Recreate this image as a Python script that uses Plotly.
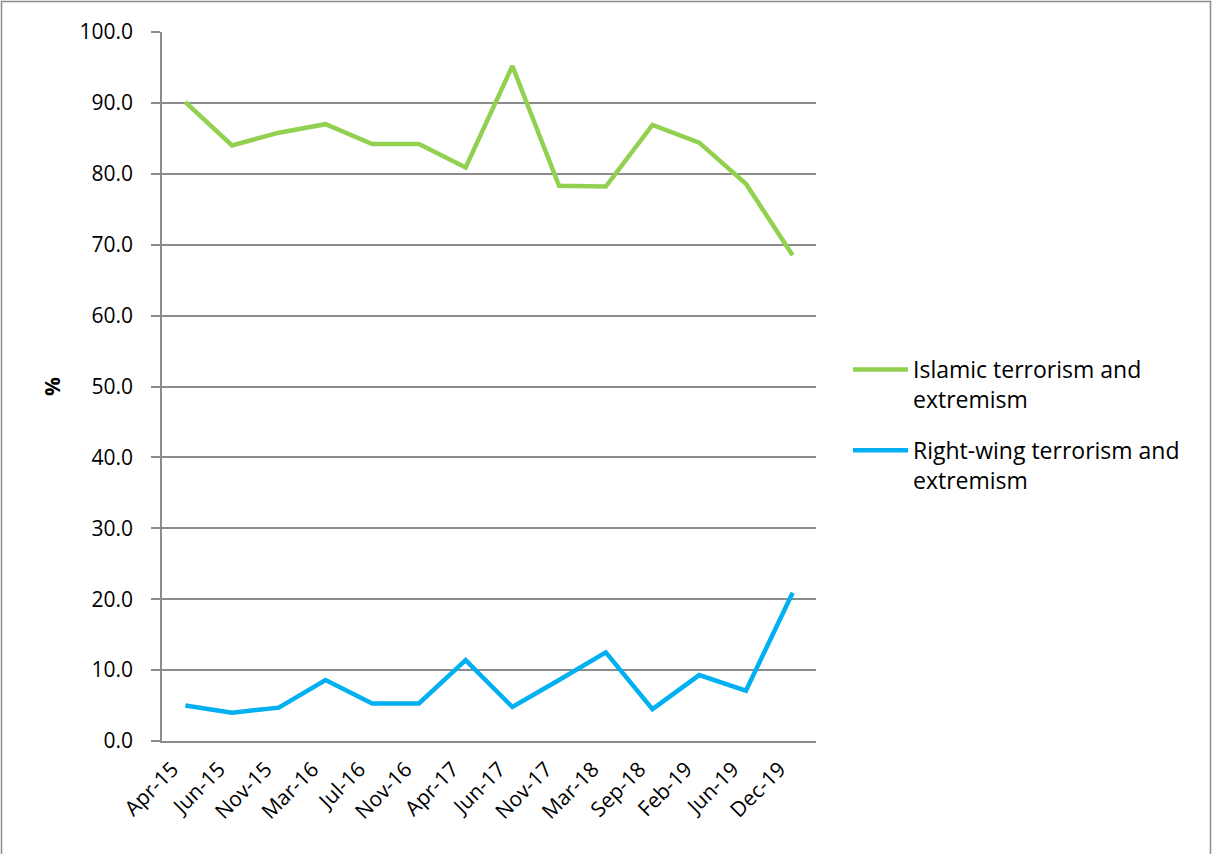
import plotly.graph_objects as go

# Survey waves
periods = ["Apr-15", "Jun-15", "Nov-15", "Mar-16", "Jul-16", "Nov-16", "Apr-17",
           "Jun-17", "Nov-17", "Mar-18", "Sep-18", "Feb-19", "Jun-19", "Dec-19"]

# Share of respondents (%) naming each threat
islamic = [90.1, 84.0, 85.8, 87.0, 84.2, 84.2, 80.9,
           95.2, 78.3, 78.2, 86.9, 84.4, 78.6, 68.5]
right_wing = [5.0, 4.0, 4.7, 8.6, 5.3, 5.3, 11.4,
              4.8, 8.6, 12.5, 4.5, 9.3, 7.1, 20.9]

y_ticks = [0, 10, 20, 30, 40, 50, 60, 70, 80, 90, 100]

FONT = "'Open Sans', Calibri, Carlito, sans-serif"
GRID = "#8c8c8c"

fig = go.Figure()
fig.add_trace(go.Scatter(
    x=periods, y=islamic, mode="lines", legendgroup="islamic",
    name="Islamic terrorism and<br>extremism",
    line=dict(color="#92D050", width=4.5),
))
fig.add_trace(go.Scatter(
    x=periods, y=right_wing, mode="lines", legendgroup="rightwing",
    name="Right-wing terrorism and<br>extremism",
    line=dict(color="#00B0F0", width=4.5),
))

W, H = 1212, 854
L, R, T, B = 162, 396, 32, 113
pw, ph = W - L - R, H - T - B

fig.update_layout(
    width=W, height=H,
    margin=dict(l=L, r=R, t=T, b=B),
    paper_bgcolor="white", plot_bgcolor="white",
    font=dict(family=FONT, size=21, color="#000000"),
    showlegend=True,
    legend=dict(
        x=(848 - L) / pw, y=1 - (348 - T) / ph,
        xanchor="left", yanchor="top",
        valign="top", tracegroupgap=18,
        itemwidth=55,
        font=dict(family=FONT, size=23, color="#000000"),
        bgcolor="rgba(0,0,0,0)",
    ),
    xaxis=dict(
        type="category", range=[-0.5, len(periods) - 0.5],
        tickangle=-45, showgrid=False, zeroline=False,
        showline=True, linecolor=GRID, linewidth=1.5,
        ticks="", tickfont=dict(family=FONT, size=21),
        ticklabelshift=-13, ticklabelstandoff=6,
    ),
    yaxis=dict(
        range=[0, 100], tickvals=y_ticks,
        ticktext=[f"{v:.1f}" for v in y_ticks],
        showgrid=True, gridcolor=GRID, gridwidth=1.5,
        zeroline=False, showline=True, linecolor=GRID, linewidth=1.5,
        ticks="outside", ticklen=9, tickcolor=GRID, tickwidth=1.5,
        ticklabelstandoff=14,
        tickfont=dict(family=FONT, size=21),
        title=dict(text="<b>%</b>", font=dict(family=FONT, size=21), standoff=13),
    ),
    shapes=[dict(
        type="rect", xref="paper", yref="paper",
        x0=(1.5 - L) / pw, x1=(1210.5 - L) / pw,
        y0=-(B + 20) / ph, y1=1 + (T - 1.5) / ph,
        line=dict(color="#8c8c8c", width=1.5), fillcolor="rgba(0,0,0,0)",
        layer="below",
    )],
)

fig.write_html("out.html")
